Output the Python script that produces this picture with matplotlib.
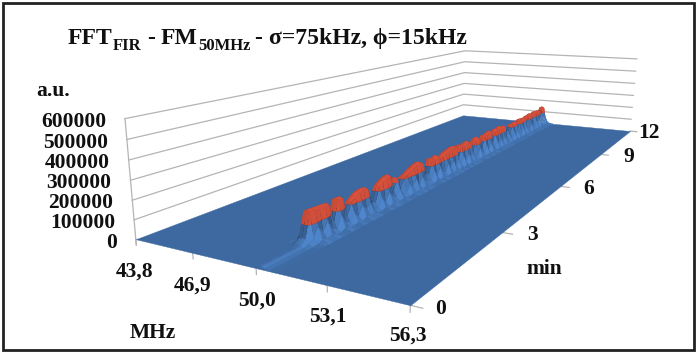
import numpy as np
import matplotlib
matplotlib.use('Agg')
from matplotlib import pyplot as plt
from matplotlib.patches import Rectangle
from mpl_toolkits.mplot3d.art3d import Poly3DCollection

W, H = 696, 352

# ridge height per time row (every 0.125 min, a.u.)
peak = [15000, 16000, 15000, 16000, 15000, 16000, 15000, 18000, 40000,
        170000, 168000, 165000, 163000, 160000,
        60000, 165000, 162000, 55000,
        115000, 135000, 150000, 155000, 150000, 60000,
        50000, 130000, 148000, 162000, 165000, 70000,
        130000, 55000, 115000, 120000, 135000, 145000, 155000, 160000, 148000, 60000,
        60000, 150000, 135000, 150000, 125000, 130000, 145000, 150000, 155000, 160000,
        155000, 70000, 150000, 130000, 145000, 150000, 125000, 70000, 140000, 150000,
        128000, 65000, 140000, 135000, 145000, 150000, 60000, 130000, 145000, 135000,
        150000, 130000, 140000, 60000, 85000, 70000, 125000, 115000, 130000, 70000,
        125000, 135000, 110000, 130000, 80000, 135000, 125000, 140000, 90000, 130000,
        140000, 120000, 135000, 100000, 125000, 150000, 60000]
minutes = np.arange(len(peak)) * 0.125

# right shoulder of the ridge per time row, relative to the peak
shoulder = [0.4, 0.4, 0.4, 0.4, 0.4, 0.4, 0.4, 0.4, 0.4,
            0.2, 0.5, 0.25, 0.55, 0.2,
            0.3, 0.5, 0.2, 0.35,
            0.5, 0.2, 0.55, 0.3, 0.45, 0.3,
            0.3, 0.5, 0.2, 0.5, 0.25, 0.4,
            0.5, 0.35, 0.2, 0.5, 0.3, 0.55, 0.2, 0.45, 0.25, 0.4,
            0.3, 0.5, 0.2, 0.55, 0.3, 0.2, 0.5, 0.25, 0.5, 0.2,
            0.45, 0.35, 0.5, 0.2, 0.5, 0.3, 0.5, 0.35, 0.2, 0.5,
            0.25, 0.4, 0.5, 0.2, 0.5, 0.3, 0.35, 0.5, 0.2, 0.45,
            0.25, 0.5, 0.3, 0.4, 0.45, 0.3, 0.5, 0.2, 0.5, 0.35,
            0.2, 0.5, 0.3, 0.5, 0.4, 0.2, 0.5, 0.25, 0.4, 0.5,
            0.2, 0.5, 0.3, 0.4, 0.5, 0.4, 0.4]

# frequency columns across the ridge and the relative shape there
freqs = [49.3, 49.6, 49.8, 49.95, 50.1, 50.25, 50.4, 50.6, 50.9]
shape = [0.0, 0.05, 0.3, 0.95, 1.0, 0.95, 1.0, 0.2, 0.0]

f_min, f_max = 43.8, 56.3
t_max = 12
z_max = 600000
band = 100000

z_ticks = [0, 100000, 200000, 300000, 400000, 500000, 600000]
f_ticks = [43.8, 46.9, 50.0, 53.1, 56.3]
t_ticks = [0, 3, 6, 9, 12]

z_labels = ['0', '100000', '200000', '300000', '400000', '500000', '600000']
f_labels = ['43,8', '46,9', '50,0', '53,1', '56,3']
t_labels = ['0', '3', '6', '9', '12']

fig = plt.figure(figsize=(W / 100, H / 100), dpi=100)
ax = fig.add_axes([0, 0, 1, 1], projection='3d')
ax.set_axis_off()
ax.patch.set_visible(False)
ax.computed_zorder = False
ax.set_proj_type('ortho')
ax.apply_aspect = lambda position=None: None

# camera: Excel's perspective fitted on the corners of the box (pixels)
box = [((0, 0, 0), (136, 240)), ((1, 0, 0), (410, 305)), ((1, 1, 0), (630, 131)),
       ((0, 1, 0), (463, 115)), ((0, 0, 1), (125, 118)), ((0, 1, 1), (465, 51)),
       ((1, 1, 1), (637, 59))]
rows, rhs = [], []
for (a, b, c), (u, v) in box:
    rows.append([a, b, c, 1, 0, 0, 0, 0, -u * a, -u * b, -u * c])
    rows.append([0, 0, 0, 0, a, b, c, 1, -v * a, -v * b, -v * c])
    rhs += [u, v]
p = np.linalg.lstsq(np.array(rows, float), np.array(rhs, float), rcond=None)[0]
P = np.append(p, 1).reshape(3, 4)
norm = np.array([[1 / (f_max - f_min), 0, 0, -f_min / (f_max - f_min)],
                 [0, 1 / t_max, 0, 0],
                 [0, 0, 1 / z_max, 0],
                 [0, 0, 0, 1]])
P = P @ norm


def get_proj():
    T = ax.transData.inverted().get_matrix()
    u = P[0]
    v = H * P[2] - P[1]
    w = P[2]
    depth = w - np.array([0, 0, 0, 0.5])
    return np.array([T[0, 0] * u + T[0, 1] * v + T[0, 2] * w,
                     T[1, 0] * u + T[1, 1] * v + T[1, 2] * w,
                     depth, w])


ax.get_proj = get_proj


def clip_band(quad, keep_low):
    out = []
    for i in range(len(quad)):
        a, b = quad[i], quad[(i + 1) % len(quad)]
        a_in = a[2] <= band if keep_low else a[2] >= band
        b_in = b[2] <= band if keep_low else b[2] >= band
        if a_in:
            out.append(a)
        if a_in != b_in:
            s = (band - a[2]) / (b[2] - a[2])
            out.append((a[0] + s * (b[0] - a[0]), a[1] + s * (b[1] - a[1]), band))
    return out


def shade(poly, base, strength):
    q = np.array(poly) * [280 / (f_max - f_min), 500 / t_max, 120 / z_max]
    n = np.cross(q[1] - q[0], q[2] - q[0])
    n = n / (np.linalg.norm(n) + 1e-9)
    if n[2] < 0:
        n = -n
    light = np.array([0.62, -0.42, 0.66])
    k = 1 + strength * (n @ light - light[2])
    if max(pt[2] for pt in poly) < 30000:
        k = max(k, 1)
    return tuple(np.clip(np.array(base) * k, 0, 1))


blue = (62 / 255, 105 / 255, 160 / 255)
red = (205 / 255, 78 / 255, 58 / 255)


def height(i, j):
    if freqs[j] in (50.4, 50.6):
        return peak[i] * shape[j] * shoulder[i]
    return peak[i] * shape[j]


verts, colors = [], []
for i in range(len(peak) - 1):
    for j in range(len(freqs) - 1):
        quad = [(freqs[j], minutes[i], height(i, j)),
                (freqs[j + 1], minutes[i], height(i, j + 1)),
                (freqs[j + 1], minutes[i + 1], height(i + 1, j + 1)),
                (freqs[j], minutes[i + 1], height(i + 1, j))]
        low = clip_band(quad, True)
        high = clip_band(quad, False)
        if len(low) >= 3:
            verts.append(low)
            colors.append(shade(low, blue, 0.85))
        if len(high) >= 3:
            verts.append(high)
            colors.append(shade(high, red, 0.2))

floor = Poly3DCollection([[(f_min, 0, 0), (f_max, 0, 0), (f_max, t_max, 0), (f_min, t_max, 0)]],
                         facecolors=[blue], edgecolors=[blue], linewidths=0.3, zorder=1)
ax.add_collection3d(floor, autolim=False)
surf = Poly3DCollection(verts, facecolors=colors, edgecolors=colors, linewidths=0.15, zorder=2)
ax.add_collection3d(surf, autolim=False)

grid = '#b4b4b4'
for z in z_ticks[1:]:
    ax.plot([f_min, f_min, f_max], [0, t_max, t_max], [z, z, z], color=grid, lw=0.9, zorder=0)
ax.plot([f_min, f_min], [0, 0], [-30000, z_max], color=grid, lw=0.9, zorder=0)
for f in f_ticks:
    ax.plot([f, f], [0, 0], [0, -30000], color=grid, lw=0.9, zorder=0)
for t in t_ticks:
    ax.plot([f_max, f_max + 0.45], [t, t], [0, 0], color=grid, lw=0.9, zorder=0)


def label(x, y, s, size=15.5, ha='center'):
    fig.text(x / W, 1 - y / H, s, fontsize=size, fontweight='bold', ha=ha, va='center_baseline',
             family=['Liberation Serif', 'DejaVu Serif'], color='#101010')


z_right = [117, 115, 113, 111, 109.5, 108, 106]
z_y = [240, 221, 201, 181, 161, 140, 119]
for s, x, y in zip(z_labels, z_right, z_y):
    label(x, y, s, ha='right')
f_x = [135, 193, 257, 328, 408]
f_y = [269, 283, 298, 314, 333]
for s, x, y in zip(f_labels, f_x, f_y):
    label(x, y, s)
t_x = [441, 532, 589, 629, 649]
t_y = [306, 233, 187, 154, 131]
for s, x, y in zip(t_labels, t_x, t_y):
    label(x, y, s)
label(53, 89, 'a.u.')
label(153, 330, 'MHz')
label(544, 267, 'min')


def title_piece(x, y, s, size):
    fig.text(x / W, 1 - y / H, s, fontsize=size, fontweight='bold', ha='left', va='baseline',
             family=['Liberation Serif', 'DejaVu Serif'], color='#101010')


title_piece(68, 44, 'FFT', 17)
title_piece(113, 50, 'FIR', 12)
title_piece(147, 44, '-', 17)
title_piece(161, 44, 'FM', 17)
title_piece(198, 50, '50MHz', 12)
title_piece(254, 44, '-', 17)
title_piece(269, 44, '\u03c3=75kHz, \u03d5=15kHz', 17)

fig.add_artist(Rectangle((2.5 / W, 1 - 349.5 / H), 691 / W, 347 / H, transform=fig.transFigure,
                         fill=False, edgecolor='#222222', lw=2))

plt.savefig('out.png', dpi=100)
